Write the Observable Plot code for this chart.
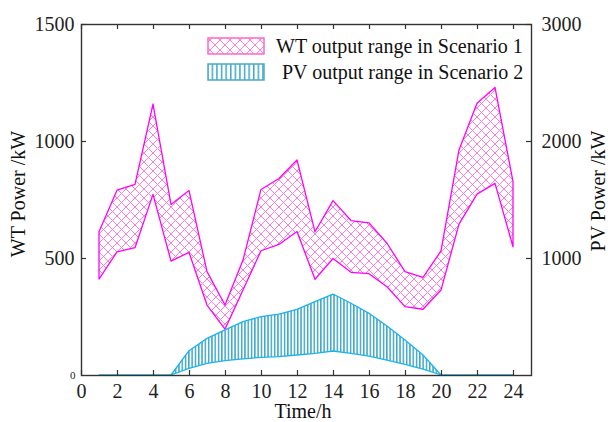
<!DOCTYPE html>
<html><head><meta charset="utf-8">
<script src="https://cdn.jsdelivr.net/npm/d3@7"></script>
<script src="https://cdn.jsdelivr.net/npm/@observablehq/plot@0.6"></script>
<style>body{margin:0;background:#fff;} svg{display:block;} svg text{font-family:'Liberation Serif','Times New Roman',serif;}</style>
</head><body><div id="chart"></div>
<script>
const hours = [1,2,3,4,5,6,7,8,9,10,11,12,13,14,15,16,17,18,19,20,21,22,23,24];
const wtUpper = [612,790,815,1158,729,788,442,299,491,793,840,919,612,745,660,650,563,442,417,530,962,1161,1229,826];
const wtLower = [410,526,544,772,487,524,299,196,363,531,558,613,409,498,439,433,377,292,281,363,645,773,819,548];
const pvUpper = [0,0,0,0,0,208,313,385,456,499,521,561,627,692,613,527,419,299,171,0,0,0,0,0];
const pvLower = [0,0,0,0,0,57,100,123,137,151,157,171,185,205,185,162,128,91,51,0,0,0,0,0];
const xTicks = [0,2,4,6,8,10,12,14,16,18,20,22,24];
const leftTicks = [500,1000,1500];
const leftZero = [0];
const rightTicks = [1000,2000,3000];
const legendLabels = ["WT output range in Scenario 1", "PV output range in Scenario 2"];
const xTitle = "Time/h";
const yLeftTitle = "WT Power /kW";
const yRightTitle = "PV Power /kW";

const wt = hours.map((h, i) => ({h, lo: wtLower[i], hi: wtUpper[i]}));
const pv = hours.map((h, i) => ({h, lo: pvLower[i], hi: pvUpper[i]}));
const pvToWt = v => v / 2; // right axis 0–3000 maps onto left axis 0–1500

const font = "'Liberation Serif', 'Times New Roman', serif";
const axisColor = "#333";

const chart = Plot.plot({
  width: 608,
  height: 422,
  marginLeft: 81,
  marginRight: 77,
  marginTop: 24,
  marginBottom: 47,
  style: {fontFamily: font, fontSize: "20px", color: "#222", background: "#fff"},
  x: {domain: [0, 25]},
  y: {domain: [0, 1500]},
  marks: [
    Plot.areaY(wt, {x: "h", y1: "lo", y2: "hi", fill: "url(#wtHatch)", stroke: "#ff00ff", strokeWidth: 1.3}),
    Plot.areaY(pv, {x: "h", y1: d => pvToWt(d.lo), y2: d => pvToWt(d.hi), fill: "url(#pvStripe)", stroke: "#1cb3ea", strokeWidth: 1.3}),
    Plot.frame({stroke: axisColor, strokeWidth: 1.4}),
    Plot.ruleX(xTicks, {x: d => d, insetTop: 346, stroke: axisColor, strokeWidth: 1.2}),
    Plot.ruleX(xTicks, {x: d => d, insetBottom: 346, stroke: axisColor, strokeWidth: 1.2}),
    Plot.ruleY(leftTicks, {y: d => d, insetRight: 445, stroke: axisColor, strokeWidth: 1.2}),
    Plot.ruleY(rightTicks, {y: d => pvToWt(d), insetLeft: 445, stroke: axisColor, strokeWidth: 1.2}),
    Plot.axisX(xTicks, {anchor: "bottom", tickSize: 0, tickPadding: 8, label: null, fontSize: 20, fontFamily: font, tickFormat: d => String(d)}),
    Plot.axisY(leftTicks, {anchor: "left", tickSize: 0, tickPadding: 7, label: null, fontSize: 20, fontFamily: font, tickFormat: d => String(d)}),
    Plot.axisY(leftZero, {anchor: "left", tickSize: 0, tickPadding: 6, label: null, fontSize: 11, fontFamily: font, tickFormat: d => String(d)}),
    Plot.axisY(rightTicks.map(pvToWt), {anchor: "right", tickSize: 0, tickPadding: 10, label: null, fontSize: 20, fontFamily: font, tickFormat: d => String(d * 2)})
  ]
});

const svg = d3.select(chart);
svg.style("font-family", font);
const defs = svg.insert("defs", ":first-child");
function crossHatch(id, size, color) {
  const p = defs.append("pattern").attr("id", id).attr("patternUnits", "userSpaceOnUse")
    .attr("width", size).attr("height", size);
  p.append("rect").attr("width", size).attr("height", size).attr("fill", "#fff");
  p.append("path").attr("d", `M0,0L${size},${size}M${size},0L0,${size}`)
    .attr("stroke", color).attr("stroke-width", 1).attr("fill", "none");
}
function stripes(id, period, color) {
  const p = defs.append("pattern").attr("id", id).attr("patternUnits", "userSpaceOnUse")
    .attr("width", period).attr("height", 10);
  p.append("rect").attr("width", period).attr("height", 10).attr("fill", "#fff");
  p.append("rect").attr("width", 1.5).attr("height", 10).attr("fill", color);
}
crossHatch("wtHatch", 9, "#ff7fd6");
crossHatch("wtHatchLegend", 10, "#ff7fd6");
stripes("pvStripe", 3.3, "#3ea8c8");
stripes("pvStripeLegend", 4.6, "#3ea8c8");

// axis titles
const tg = svg.append("g").attr("font-family", font).attr("font-size", 20).attr("fill", "#111").attr("text-anchor", "middle");
tg.append("text").attr("x", 303).attr("y", 418).text(xTitle);
tg.append("text").attr("transform", "translate(25,194) rotate(-90)").text(yLeftTitle);
tg.append("text").attr("transform", "translate(605,191) rotate(-90)").text(yRightTitle);

// legend
const lg = svg.append("g").attr("font-family", font).attr("font-size", 20).attr("fill", "#111").attr("text-anchor", "start");
lg.append("rect").attr("x", 208).attr("y", 38).attr("width", 56).attr("height", 16)
  .attr("fill", "url(#wtHatchLegend)").attr("stroke", "#ff66cc").attr("stroke-width", 1.5);
lg.append("rect").attr("x", 208).attr("y", 64).attr("width", 56).attr("height", 16)
  .attr("fill", "url(#pvStripeLegend)").attr("stroke", "#4aaac8").attr("stroke-width", 1.5);
lg.append("text").attr("x", 276).attr("y", 53).text(legendLabels[0]);
lg.append("text").attr("x", 282).attr("y", 79).text(legendLabels[1]);

document.getElementById("chart").appendChild(chart);
</script>
</body></html>
